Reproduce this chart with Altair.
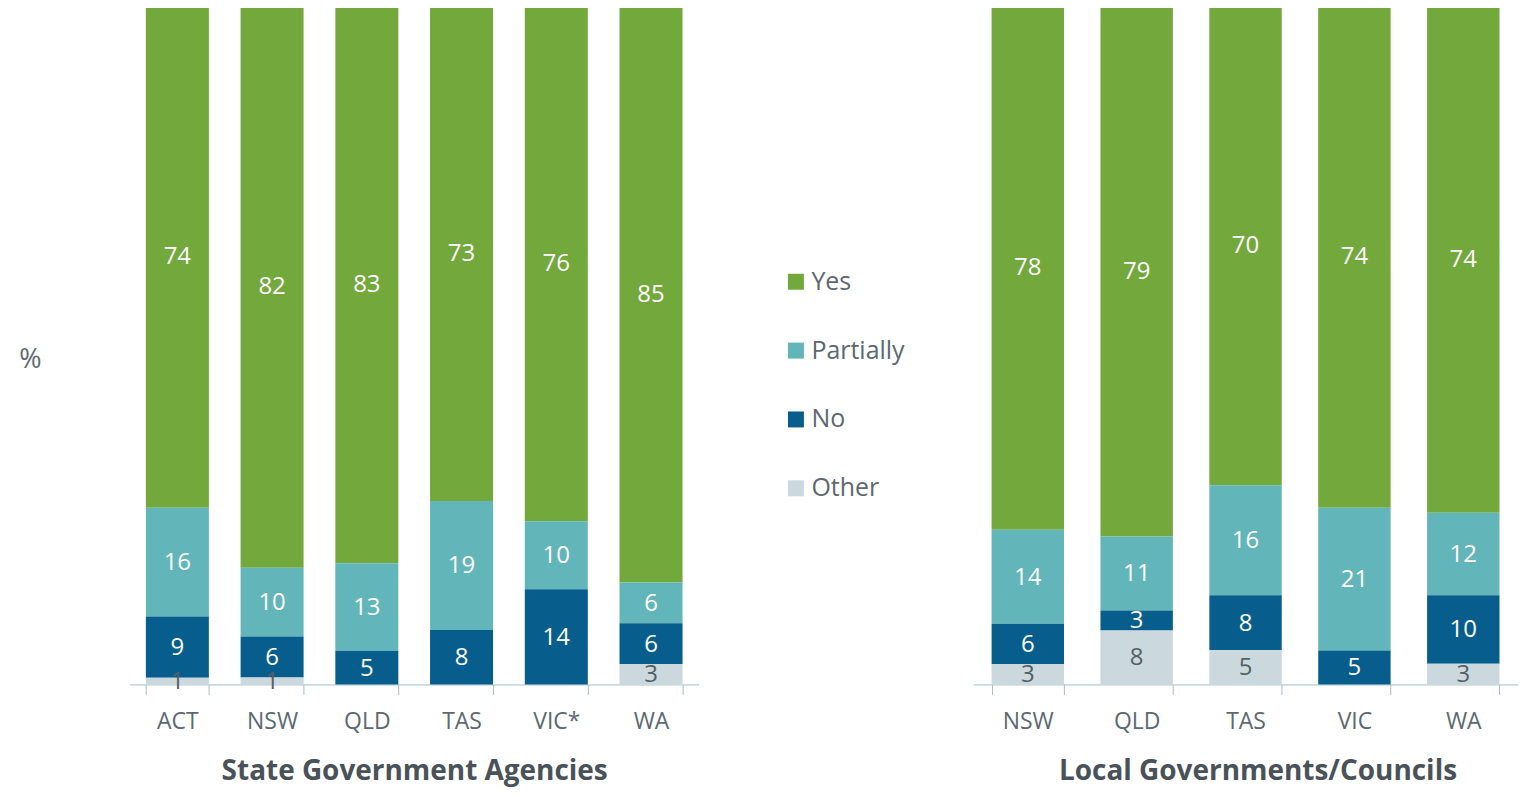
import altair as alt
import pandas as pd

FONT = "Open Sans"

categories = ["Yes", "Partially", "No", "Other"]
colors = ["#72a83c", "#62b5b8", "#075e8c", "#cbd8de"]
stack_rank = {"Other": 0, "No": 1, "Partially": 2, "Yes": 3}

state_names = ["ACT", "NSW", "QLD", "TAS", "VIC*", "WA"]
state_yes = [74, 82, 83, 73, 76, 85]
state_partially = [16, 10, 13, 19, 10, 6]
state_no = [9, 6, 5, 8, 14, 6]
state_other = [1, 1, 0, 0, 0, 3]

local_names = ["NSW", "QLD", "TAS", "VIC", "WA"]
local_yes = [78, 79, 70, 74, 74]
local_partially = [14, 11, 16, 21, 12]
local_no = [6, 3, 8, 5, 10]
local_other = [3, 8, 5, 0, 3]


def build(names, yes, part, no, other):
    rows = []
    for i, n in enumerate(names):
        for cat, vals in zip(categories, [yes, part, no, other]):
            rows.append({"state": n, "category": cat, "value": vals[i],
                         "rank": stack_rank[cat]})
    return pd.DataFrame(rows)


state_df = build(state_names, state_yes, state_partially, state_no, state_other)
local_df = build(local_names, local_yes, local_partially, local_no, local_other)

LABEL_COLOR = "#5d6870"
AXIS_COLOR = "#a3bfcc"


def panel(df, names, width, xtitle, with_ytitle, title_x):
    base = alt.Chart(df).transform_stack(
        stack="value", groupby=["state"], as_=["y0", "y1"],
        sort=[alt.SortField("rank", order="ascending")], offset="normalize"
    ).transform_calculate(mid="(datum.y0 + datum.y1) / 2")

    x = alt.X("state:N", sort=names,
              scale=alt.Scale(paddingInner=0.335, paddingOuter=0.17),
              axis=alt.Axis(title=xtitle, labelAngle=0, labelFontSize=23,
                            labelColor=LABEL_COLOR, labelFont=FONT,
                            labelPadding=16, domainColor=AXIS_COLOR,
                            tickColor=AXIS_COLOR, tickSize=10, tickBand="extent",
                            titleFont=FONT, titleFontSize=28,
                            titleFontWeight="bold", titleColor="#4a5259",
                            titlePadding=24, titleX=title_x))
    if with_ytitle:
        yaxis = alt.Axis(title="%", titleAngle=0, titleX=-100, titleY=355,
                         titleAlign="center", titleBaseline="middle",
                         titleFont=FONT, titleFontSize=27,
                         titleFontWeight="normal", titleColor=LABEL_COLOR,
                         labels=False, ticks=False, domain=False, grid=False)
    else:
        yaxis = None
    bars = base.mark_bar().encode(
        x=x,
        y=alt.Y("y0:Q", scale=alt.Scale(domain=[0, 1]), axis=yaxis),
        y2="y1:Q",
        color=alt.Color("category:N",
                        scale=alt.Scale(domain=categories, range=colors),
                        legend=alt.Legend(orient="none", legendX=655, legendY=265,
                                          title=None, symbolType="square",
                                          symbolSize=256, symbolStrokeWidth=0,
                                          labelFontSize=25, labelFont=FONT,
                                          labelColor=LABEL_COLOR, rowPadding=43,
                                          labelOffset=3)),
    )
    text = base.transform_filter("datum.value > 0").mark_text(
        fontSize=24, font=FONT, baseline="middle", dy=1
    ).encode(
        x=x,
        y=alt.Y("mid:Q", scale=alt.Scale(domain=[0, 1]), axis=yaxis),
        text="value:Q",
        color=alt.condition("datum.category == 'Other'",
                            alt.value("#555f66"), alt.value("white")),
    )
    return alt.layer(bars, text).properties(width=width, height=681)


left = panel(state_df, state_names, 570, "State Government Agencies", True, 285)
right = panel(local_df, local_names, 546, "Local Governments/Councils", False, 285)

chart = alt.hconcat(left, right, spacing=275).properties(
    padding={"left": 10, "top": -4, "right": 0, "bottom": 3},
    background="white",
).configure_view(strokeWidth=0, stroke="transparent")

chart.save("out.html", embed_options={"renderer": "svg", "actions": False})
